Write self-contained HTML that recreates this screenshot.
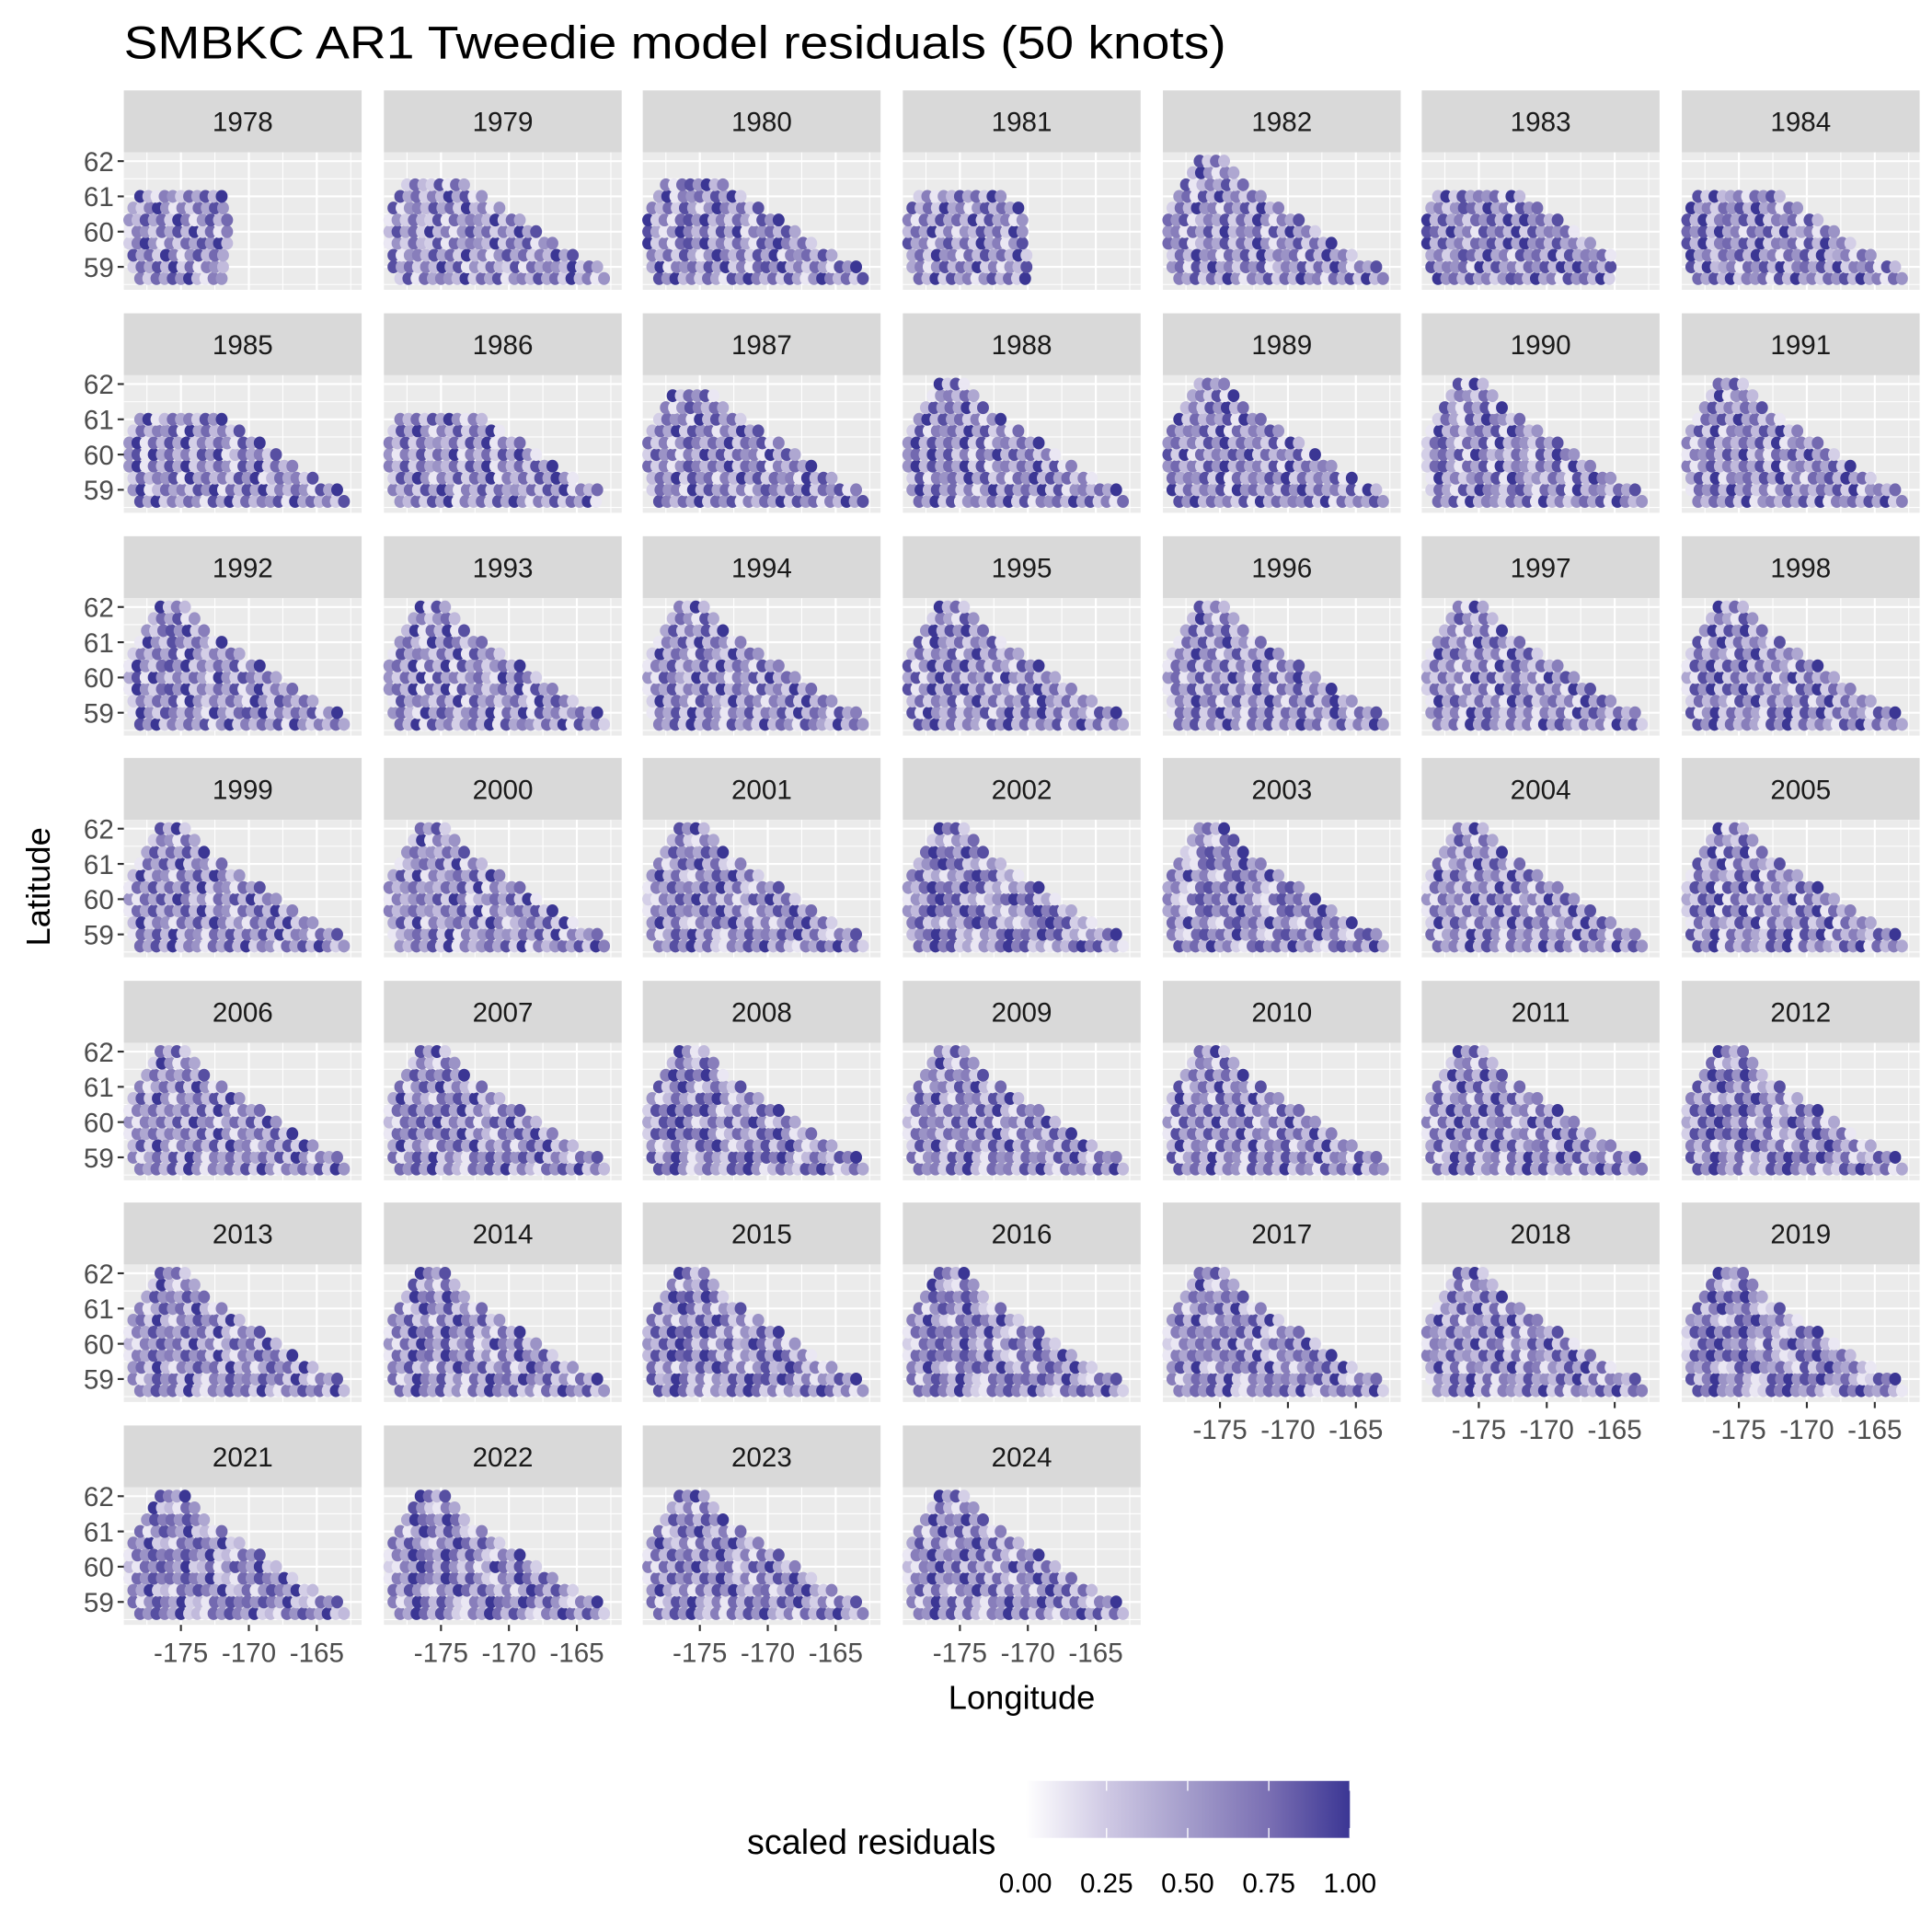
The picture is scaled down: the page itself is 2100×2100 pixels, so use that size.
<!DOCTYPE html>
<html><head><meta charset="utf-8"><style>
html,body{margin:0;padding:0;background:#fff;}
svg{display:block;font-family:"Liberation Sans",Arial,sans-serif;}
</style></head><body>
<svg id="chart" width="2100" height="2100" viewBox="0 0 1560 1560" xmlns="http://www.w3.org/2000/svg">
<defs>
<linearGradient id="grad" x1="0" x2="1" y1="0" y2="0">
<stop offset="0" stop-color="#FFFFFF"/><stop offset="0.25" stop-color="#CFC9E4"/><stop offset="0.5" stop-color="#A49DCB"/><stop offset="0.75" stop-color="#7A6FB3"/><stop offset="1" stop-color="#3B3694"/>
</linearGradient>
</defs>
<text x="100" y="47" font-size="37" fill="#000" textLength="890" lengthAdjust="spacingAndGlyphs">SMBKC AR1 Tweedie model residuals (50 knots)</text>
<g id="panels"></g>
<text transform="translate(40,716) rotate(-90)" text-anchor="middle" font-size="27" fill="#000">Latitude</text>
<text x="825" y="1380" text-anchor="middle" font-size="27" fill="#000">Longitude</text>
<g>
<text x="804" y="1497" text-anchor="end" font-size="28" fill="#000">scaled residuals</text>
<rect x="828" y="1438" width="262" height="46" fill="url(#grad)"/>
<g id="legendTicks"></g>
</g>
</svg>
<script>
const years=[1978,1979,1980,1981,1982,1983,1984,1985,1986,1987,1988,1989,1990,1991,1992,1993,1994,1995,1996,1997,1998,1999,2000,2001,2002,2003,2004,2005,2006,2007,2008,2009,2010,2011,2012,2013,2014,2015,2016,2017,2018,2019,2021,2022,2023,2024];
const rowLats=[58.67,59.0,59.33,59.67,60.0,60.33,60.67,61.0,61.33,61.67,62.0];
const rowLonMin=[-178,-178.5,-178.5,-178.8,-178.8,-178.8,-178.5,-178,-177.5,-177,-176.5];
const rowLonMax=[-162.5,-163.5,-165,-166.5,-168,-169,-170.5,-172,-173,-174,-174.5];
const yearLonCap=[-171.5,-163,-163,-170,-162.5,-165,-162.5,-162.5,-163.5,-163,-162.5,-162.5,-162.5,-162.5,-163,-162.5,-162.5,-162.5,-162.5,-162.5,-162.5,-162.5,-162.5,-162.5,-162.5,-162.5,-162.5,-162.5,-162.5,-162.5,-162.5,-162.5,-162.5,-162.5,-162.5,-162.5,-162.5,-162.5,-162.5,-162.5,-162.5,-162.5,-162.5,-162.5,-162.5,-162.5];
const yearLatCap=[61,61.33,61.33,61,62,61,61,61,61,61.67,62,62,62,62,62,62,62,62,62,62,62,62,62,62,62,62,62,62,62,62,62,62,62,62,62,62,62,62,62,62,62,62,62,62,62,62];
const values=[
"6274859316527483927165384729615837426951","2817465392748156384729361584726394815273","8593627418596372841596372849165738492617",
"7392846158372946158374926153847295617384","6482739516482739561748293657183946275813","9573846258739461857392846571938462758394",
"7483926571839462758394617582934617583926","8492637518492736581947362859137462859173","5372849163728495163827491637284951638274",
"8637492758163749285716394827561938472615","7492815637492816573948261759384726159384","8593746281937465829173648592736481957362",
"7481936527481936257481963527418396527841","6374829156374829165738492617583947261583","8592637481592637481952637419528637419527",
"7391846257391846527391846257319486257391","6482937518462937518642937516482937516482","8593726418593726481593726481953726481593",
"7482639517482639571482639517482693517482","6371948527361948527361948257361948527361","8592736418592736418592736481592736418592",
"7483926517483926517483962517483926517483","5374829163574829163574829613574829163574","6485937216485937216485937261485937216485",
"7496824153796824153796824135796824153796","8573946217857394621785739462178573946217","7462938517462938517462938571462938517462",
"8591736428591736428591736482591736428591","6473829516473829516473829561473829516473","7584926317584926317584926371584926317584",
"8695137428695137428695137482695137428695","7562849317562849317562849371562849317562","8473926518473926518473926581473926518473",
"7394825617394825617394825671394825617394","8596371428596371428596371482596371428596","6485729316485729316485729361485729316485",
"7396482517396482517396482571396482517396","8497261538497261538497261583497261538497","7586394217586394217586394271586394217586",
"6475839216475839216475839261475839216475","5384927165384927165384927615384927165384","8695473128695473128695473182695473128695",
"7586492317586492317586492371586492317586","6497385216497385216497385261497385216497","7385942617385942617385942671385942617385",
"6594827316594827316594827361594827316594"];
const yTicks=[59,60,61,62];
const xTicks=[-175,-170,-165];
const legendTicks=[0,0.25,0.5,0.75,1];

const NS="http://www.w3.org/2000/svg";
const colX=[100,310,519,729,939,1148,1358];
const rowY=[73,253,433,612,792,971,1151];
const PW=192, SH=50, PH=111;
const lonMin=-179.2, lonMax=-161.7, latMin=58.35, latMax=62.25;
function sx(lon,x0){return x0+(lon-lonMin)/(lonMax-lonMin)*PW;}
function sy(lat,y0){return y0+SH+PH-(lat-latMin)/(latMax-latMin)*PH;}
const stops=[[255,255,255],[207,201,228],[164,157,203],[122,111,179],[59,54,148]];
function col(v){v=Math.max(0,Math.min(1,v));const t=v*4,i=Math.min(3,Math.floor(t)),f=t-i;const a=stops[i],b=stops[i+1];return `rgb(${Math.round(a[0]+(b[0]-a[0])*f)},${Math.round(a[1]+(b[1]-a[1])*f)},${Math.round(a[2]+(b[2]-a[2])*f)})`;}
function mk(tag,attrs,parent){const e=document.createElementNS(NS,tag);for(const k in attrs)e.setAttribute(k,attrs[k]);parent.appendChild(e);return e;}
const root=document.getElementById('panels');
years.forEach((yr,k)=>{
  const r=k<42?Math.floor(k/7):6, c=k<42?k%7:k-42;
  const x0=colX[c], y0=rowY[r];
  const g=mk('g',{},root);
  
  
  const st=mk('rect',{x:x0,y:y0,width:PW,height:SH,fill:'#D9D9D9'},g);
  
  
  const stt=mk('text',{x:x0+PW/2,y:y0+33,'text-anchor':'middle','font-size':'22',fill:'#1A1A1A'},g);
  stt.textContent=yr;
  
  
  mk('rect',{x:x0,y:y0+SH,width:PW,height:PH,fill:'#EBEBEB'},g);
  for(let v=-177.5;v<=-162;v+=5) mk('line',{x1:sx(v,x0),x2:sx(v,x0),y1:y0+SH,y2:y0+SH+PH,stroke:'#fff','stroke-width':0.8},g);
  for(let v=58.5;v<=62;v+=1) mk('line',{x1:x0,x2:x0+PW,y1:sy(v,y0),y2:sy(v,y0),stroke:'#fff','stroke-width':0.8},g);
  xTicks.forEach(v=>mk('line',{x1:sx(v,x0),x2:sx(v,x0),y1:y0+SH,y2:y0+SH+PH,stroke:'#fff','stroke-width':1.6},g));
  yTicks.forEach(v=>mk('line',{x1:x0,x2:x0+PW,y1:sy(v,y0),y2:sy(v,y0),stroke:'#fff','stroke-width':1.6},g));
  const vals=values[k];let idx=0;
  rowLats.forEach((lat,ri)=>{
    if(lat>yearLatCap[k]+0.01) return;
    const mx=Math.min(rowLonMax[ri],yearLonCap[k]);
    for(let lon=rowLonMin[ri];lon<=mx+0.01;lon+=0.6){
      const v=+vals[idx%vals.length]/9; idx++;
      const p=mk('ellipse',{cx:sx(lon,x0),cy:sy(lat,y0),rx:4.8,ry:5.2,fill:col(v)},g);
      
      
    }
  });
  if(c===0){
    yTicks.forEach(v=>{
      mk('line',{x1:x0-5,x2:x0,y1:sy(v,y0),y2:sy(v,y0),stroke:'#333','stroke-width':1.6},g);
      const t=mk('text',{x:x0-8,y:sy(v,y0)+8,'text-anchor':'end','font-size':'22',fill:'#4D4D4D'},g);
      t.textContent=v;
      
      
    });
  }
  if(k>=39){
    xTicks.forEach(v=>{
      mk('line',{x1:sx(v,x0),x2:sx(v,x0),y1:y0+SH+PH,y2:y0+SH+PH+5,stroke:'#333','stroke-width':1.6},g);
      const t=mk('text',{x:sx(v,x0),y:y0+SH+PH+30,'text-anchor':'middle','font-size':'22',fill:'#4D4D4D'},g);
      t.textContent=v;
      
      
    });
  }
});
const lg=document.getElementById('legendTicks');
legendTicks.forEach(v=>{
  const x=828+v*262;
  mk('line',{x1:x,x2:x,y1:1438,y2:1446,stroke:'#fff','stroke-width':1},lg);
  mk('line',{x1:x,x2:x,y1:1476,y2:1484,stroke:'#fff','stroke-width':1},lg);
  const t=mk('text',{x:x,y:1528,'text-anchor':'middle','font-size':'22',fill:'#000'},lg);
  t.textContent=v.toFixed(2);
  
  
});
</script>
</body></html>
